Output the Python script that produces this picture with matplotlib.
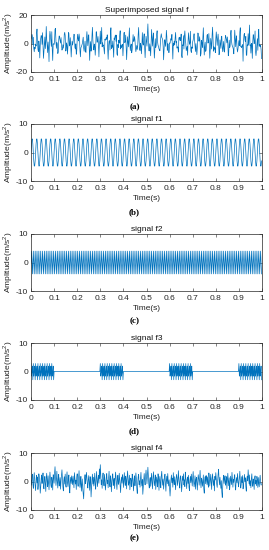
import numpy as np
import matplotlib
matplotlib.use("Agg")
import matplotlib.pyplot as plt

plt.rcParams['font.family'] = ['Liberation Sans', 'DejaVu Sans']
plt.rcParams['mathtext.fontset'] = 'custom'
plt.rcParams['mathtext.rm'] = 'Liberation Sans'
plt.rcParams['axes.unicode_minus'] = False

# sampling and component parameters
fs = 500
f1_amp, f1_freq = 5.0, 50.0
f2_amp, f2_freq = 4.0, 125.0
f3_amp, f3_freq = 3.0, 200.0
f3_bursts = [(0.0, 0.1), (0.3, 0.4), (0.6, 0.7), (0.9, 1.0)]

# noise component f4, hand-read samples
f4 = [
    0.4, -1.3, 1.9, 2.6, -0.8, -2.4, 1.2, 3.1, 0.2, -1.7,
    -3.2, 0.9, 2.2, -0.5, 1.6, -2.8, -1.1, 2.7, 1.4, -0.3,
    -4.1, -1.9, 1.0, 2.3, -0.7, 0.8, 3.0, -1.5, -2.6, 0.5,
    1.8, -0.9, -3.5, 1.3, 2.9, 0.1, -1.8, 2.0, -0.4, -2.9,
    0.7, 3.3, 1.1, -1.2, -2.1, 1.5, 0.3, -3.0, 2.4, 1.7,
    -0.6, 2.8, 5.2, 1.9, -1.4, 0.6, 3.6, -0.2, -2.3, 1.0,
    2.5, -1.6, -0.8, 1.4, -2.7, 0.2, 2.1, 4.1, 0.9, -1.9,
    -3.3, 0.4, 1.7, -0.9, 2.6, -1.3, -2.0, 1.2, 3.4, -0.5,
    -1.8, 0.8, 2.3, -2.5, -4.0, 0.1, 1.5, -0.7, 2.0, 0.6,
    -1.1, 1.9, -0.3, -2.2, 3.1, 1.3, -0.9, 0.5, -2.8, 1.6,
    2.7, -0.4, -1.7, 1.0, 3.8, 0.2, -2.1, -0.6, 1.8, -3.4,
    -1.2, 0.9, -2.6, -4.3, -6.1, -1.5, 1.1, 2.4, -0.8, 0.7,
    3.2, 1.4, -1.0, -2.3, 0.6, 2.1, -0.5, -3.1, 1.7, 0.3,
    -5.4, -2.0, 0.8, 2.6, -0.9, 1.5, -1.6, 0.4, 2.9, -1.3,
    -2.7, 1.2, 3.5, 0.1, -1.8, 0.9, 2.2, -0.6, 4.4, 1.0,
    5.9, 2.3, -1.1, 0.6, -2.4, 1.8, 3.0, -0.2, -1.5, 2.5,
    0.3, -3.0, -1.2, 1.6, 2.8, -0.7, 0.5, -2.2, 1.3, 3.6,
    -0.8, -1.9, 2.0, 0.4, -3.6, -0.3, 1.9, 2.7, -1.4, 0.2,
    1.1, -2.5, 0.7, 3.3, 1.5, -0.9, -2.8, 0.6, 2.2, -1.0,
    -0.4, 2.9, 0.8, -1.7, -3.9, 0.3, 1.6, -0.6, 2.4, 1.2,
    -2.1, 0.5, 3.1, -0.2, -1.4, 1.9, 0.7, -2.6, 1.4, 3.7,
    0.9, -1.3, -0.5, 2.2, -2.9, -1.0, 1.2, 0.4, -1.8, 2.6,
    1.5, -0.7, -3.3, 0.8, 2.0, -1.5, 0.1, 3.0, 1.1, -2.4,
    -4.2, -0.6, 1.7, 2.5, -1.1, 0.3, -2.0, 1.0, 3.2, -0.3,
    -1.6, 0.7, -4.5, -1.9, 1.3, 2.8, 0.2, -1.2, 1.9, 4.0,
    1.6, -0.8, 2.4, 5.0, 2.1, -0.9, -2.3, 0.6, 1.4, -1.7,
    0.5, 2.9, -0.4, -2.6, 1.1, 3.4, 0.8, -1.5, -0.1, 2.3,
    -2.8, -0.5, 1.6, 0.2, -1.9, 2.7, 1.0, -3.1, 0.4, 1.8,
    -0.6, -2.2, 2.1, 3.6, 0.7, -1.3, 0.9, -2.7, -0.3, 1.5,
    2.6, -1.0, -3.4, 0.5, 1.9, -0.8, 2.8, 0.1, -1.6, 0.6,
    -2.4, -5.1, -1.7, 0.9, 2.3, -0.4, 1.2, -2.0, 3.1, 0.3,
    -1.1, 1.7, -0.6, -2.9, 0.8, 2.5, 1.3, -1.4, 0.2, 3.8,
    1.0, -0.9, -2.3, 1.4, 2.0, -0.2, -3.6, -1.0, 1.9, 0.4,
    2.7, -1.2, 0.6, -1.8, 3.3, 1.1, -0.5, -2.5, 0.9, 1.6,
    -0.7, 2.2, -2.1, -3.2, 0.3, 1.8, -0.4, 2.6, 0.5, -1.6,
    1.3, 3.5, 0.2, -1.9, -0.6, 2.0, -2.7, 0.7, 1.5, -0.9,
    -3.0, 0.4, 2.4, 1.0, -1.3, 0.8, 3.9, -0.1, -2.2, 1.2,
    0.6, -1.7, -0.3, 2.3, -2.6, -4.1, 0.5, 1.7, -0.8, 2.1,
    0.9, -1.1, 1.6, -0.5, -2.0, 3.0, 1.4, -1.6, 0.3, 2.5,
    -0.4, -2.8, 1.1, 2.7, 0.2, -1.4, 0.7, -3.3, 1.8, 0.5,
    3.1, 1.2, -0.9, -2.1, 0.4, 2.6, 4.3, 0.8, -1.2, 1.5,
    -0.6, -2.4, 0.3, -3.7, -5.6, -1.8, 1.0, 2.2, -0.7, 0.9,
    2.0, -1.3, -0.2, 1.7, -2.5, 0.6, 2.9, 0.1, -1.5, 1.3,
    -2.9, -0.8, 1.9, 0.5, -1.1, 3.2, 1.0, -2.0, 0.7, -0.3,
    1.6, 2.4, -1.6, -3.0, 0.2, 1.4, -0.5, 2.8, 0.9, -1.9,
    -0.7, 1.1, 3.6, 0.4, -2.3, -1.0, 1.7, -0.4, 2.1, -2.6,
    -1.2, 0.8, 2.5, -0.1, 1.3, -1.8, -3.4, 0.6, 1.9, 0.2,
    4.1, 1.5, -0.8, 2.3, -1.4, 0.3, -2.2, 1.0, 2.7, -0.6,
    -1.7, 0.9, -0.3, -2.8, 1.2, 2.0, -0.9, 0.4, -1.5, 1.8,
    0.6, -2.1, 1.4, -0.7, -1.9, 0.5, 2.2, -0.4, -1.3, -0.8,
]

titles = ['Superimposed signal f', 'signal f1', 'signal f2', 'signal f3', 'signal f4']
panel_tags = ['(a)', '(b)', '(c)', '(d)', '(e)']
ylims = [(-20, 20), (-10, 10), (-10, 10), (-10, 10), (-10, 10)]
yticks = [[-20, 0, 20], [-10, 0, 10], [-10, 0, 10], [-10, 0, 10], [-10, 0, 10]]
xticks = np.round(np.arange(0, 1.01, 0.1), 1)
xticklabels = ['0', '0.1', '0.2', '0.3', '0.4', '0.5', '0.6', '0.7', '0.8', '0.9', '1']

f4 = np.array(f4)
t = np.arange(len(f4)) / fs
sig1 = f1_amp * np.sin(2 * np.pi * f1_freq * t)
sig2 = f2_amp * np.sin(2 * np.pi * f2_freq * t)
gate = np.zeros_like(t)
for a, b in f3_bursts:
    gate[(t >= a) & (t < b)] = 1.0
sig3 = f3_amp * gate * np.sin(2 * np.pi * f3_freq * t + 1.2)
sig = sig1 + sig2 + sig3 + f4
signals = [sig, sig1, sig2, sig3, f4]

W, H = 269, 550
fig = plt.figure(figsize=(W / 100, H / 100), dpi=100)

# (top, bottom) of each axes box in pixels, and where the (a)..(e) tags sit
boxes = [(15, 72), (124, 181), (234, 291), (343, 400), (453, 510)]
tag_y = [107, 212, 321, 431, 538]
blue = '#0072BD'
fs_txt = 6.0

for i in range(5):
    top, bot = boxes[i]
    ax = fig.add_axes([31 / W, 1 - bot / H, 231 / W, (bot - top) / H])
    ax.plot(t, signals[i], color=blue, lw=0.5)
    ax.set_xlim(0, 1)
    ax.set_ylim(*ylims[i])
    ax.set_yticks(yticks[i])
    ax.set_xticks(xticks)
    ax.set_xticklabels(xticklabels)
    ax.tick_params(direction='in', length=2, width=0.4, top=True, right=True,
                   labelsize=fs_txt, colors='#262626')
    ax.tick_params(axis='x', pad=3)
    ax.tick_params(axis='y', pad=2)
    for s in ax.spines.values():
        s.set_linewidth(0.5)
        s.set_color('#262626')
    ax.set_title(titles[i], fontsize=fs_txt, pad=2.5, color='#111111')
    ax.set_xlabel('Time(s)', fontsize=fs_txt, labelpad=2, color='#262626')
    ax.set_ylabel('Amplitude(m/s$^2$)', fontsize=fs_txt, color='#262626')
    ax.yaxis.set_label_coords(-0.068, 0.5)
    fig.text(0.5, 1 - tag_y[i] / H, panel_tags[i], ha='center', va='center',
             fontsize=6.5, fontweight='bold', family='Liberation Serif')

fig.savefig('out.png', dpi=100)
